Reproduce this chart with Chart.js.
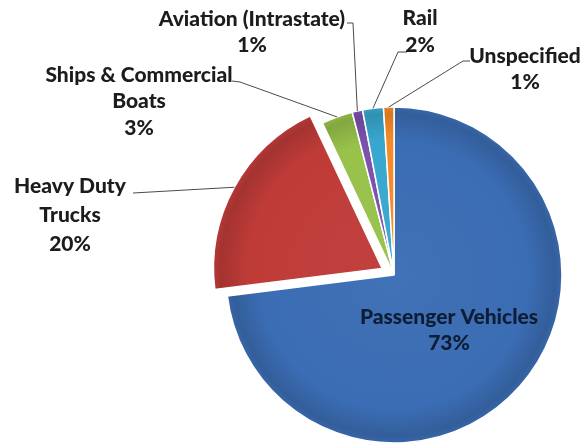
<!DOCTYPE html>
<html>
<head>
<meta charset="utf-8">
<script src="https://cdn.jsdelivr.net/npm/chart.js@4/dist/chart.umd.min.js"></script>
<style>
  html, body { margin: 0; padding: 0; background: #ffffff; }
  #wrap { width: 582px; height: 448px; position: relative; }
</style>
</head>
<body>
<div id="wrap"><canvas id="c" width="582" height="448"></canvas></div>
<script>
// Transportation emissions by source (percent share)
const categories = ['Passenger Vehicles', 'Heavy Duty Trucks', 'Ships & Commercial Boats',
                    'Aviation (Intrastate)', 'Rail', 'Unspecified'];
const shares = [73, 20, 3, 1, 2, 1];
const sliceColors = ['#3b6db4', '#bf3b38', '#98c24a', '#7b52ae', '#38a7cf', '#f68b26'];
const explode = [0, 54, 0, 0, 0, 0];

// text lines of each label (the percent line is added from shares)
const labelLines = [
  ['Passenger Vehicles'],
  ['Heavy Duty', 'Trucks'],
  ['Ships & Commercial', 'Boats'],
  ['Aviation (Intrastate)'],
  ['Rail'],
  ['Unspecified']
];

// label placement: centre of first line, line spacing, leader start and bend
const labelAt    = [[449, 317], [70, 186], [139, 75], [252, 19], [420, 18], [525, 56]];
const lineGap    = [26, 29, 26.5, 26.5, 27, 26];
const leaderFrom = [null, [133, 193], [232, 81], [347, 23], [407, 52], [470, 61]];
const leaderBend = [null, null, [240, 82], [353, 23], [398, 52], [463, 61]];

function shade(hex, amt) {
  const n = parseInt(hex.slice(1), 16);
  let r = (n >> 16) & 255, g = (n >> 8) & 255, b = n & 255;
  const f = c => Math.max(0, Math.min(255, Math.round(amt >= 0 ? c + (255 - c) * amt : c * (1 + amt))));
  return `rgb(${f(r)},${f(g)},${f(b)})`;
}

function sliceFill(ctx) {
  const base = sliceColors[ctx.dataIndex];
  const area = ctx.chart.chartArea;
  if (!area) return base;
  const cx = (area.left + area.right) / 2, cy = (area.top + area.bottom) / 2;
  const g = ctx.chart.ctx.createRadialGradient(cx, cy, 0, cx, cy, 168);
  g.addColorStop(0, shade(base, 0.03));
  g.addColorStop(0.8, base);
  g.addColorStop(0.96, shade(base, -0.14));
  g.addColorStop(1, shade(base, -0.06));
  return g;
}

function rimPoint(arc) {
  const mid = (arc.startAngle + arc.endAngle) / 2;
  const off = (arc.options.offset || 0) / 4;
  const circ = arc.endAngle - arc.startAngle;
  const t = off * (2 - Math.sin(Math.min(Math.PI, circ)));
  const r = arc.outerRadius + t;
  return [arc.x + Math.cos(mid) * r, arc.y + Math.sin(mid) * r];
}

const pieLabels = {
  id: 'pieLabels',
  afterDatasetsDraw(chart) {
    const ctx = chart.ctx;
    const arcs = chart.getDatasetMeta(0).data;
    ctx.save();
    // leader lines
    ctx.strokeStyle = '#4a4a4a';
    ctx.lineWidth = 1;
    arcs.forEach((arc, i) => {
      if (!leaderFrom[i]) return;
      const tip = rimPoint(arc);
      ctx.beginPath();
      ctx.moveTo(leaderFrom[i][0], leaderFrom[i][1]);
      if (leaderBend[i]) ctx.lineTo(leaderBend[i][0], leaderBend[i][1]);
      ctx.lineTo(tip[0], tip[1]);
      ctx.stroke();
    });
    // label text
    ctx.font = '900 21px Lato';
    ctx.textAlign = 'center';
    ctx.textBaseline = 'middle';
    categories.forEach((name, i) => {
      const lines = labelLines[i].concat([shares[i] + '%']);
      ctx.fillStyle = i === 0 ? '#0e1c34' : '#1c1c1c';
      lines.forEach((s, k) => {
        ctx.fillText(s, labelAt[i][0], labelAt[i][1] + k * lineGap[i]);
      });
    });
    ctx.restore();
  }
};

new Chart(document.getElementById('c'), {
  type: 'pie',
  data: {
    labels: categories,
    datasets: [{
      data: shares,
      backgroundColor: sliceFill,
      borderColor: '#ffffff',
      borderWidth: 1.5,
      offset: explode,
      radius: 168
    }]
  },
  options: {
    responsive: false,
    animation: false,
    events: [],
    layout: { padding: { left: 216, right: 10, top: 102, bottom: 0 } },
    plugins: {
      legend: { display: false },
      tooltip: { enabled: false }
    }
  },
  plugins: [pieLabels]
});
</script>
</body>
</html>
